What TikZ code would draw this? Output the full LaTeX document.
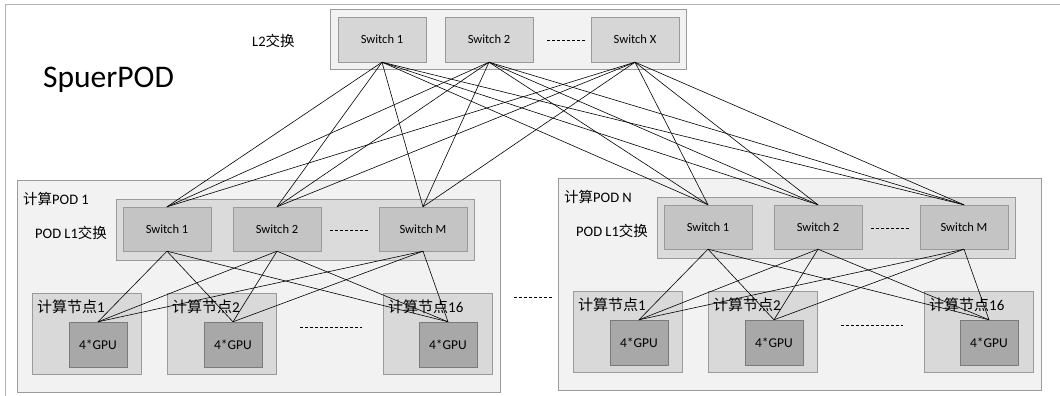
\documentclass[tikz,border=0pt]{standalone}
\usepackage{fontspec}
\setmainfont{Carlito}
\newfontfamily\cjk{Noto Sans CJK SC}
\usetikzlibrary{positioning}
\newcommand\zh[1]{{\cjk #1}}
\definecolor{edgegray}{HTML}{9A9A9A}
\tikzstyle{podbox} = [draw=edgegray, fill=black!5, minimum width=483pt, minimum height=212pt, inner sep=0pt]
\tikzstyle{l1box} = [draw=edgegray, fill=black!14, minimum width=358pt, minimum height=61pt, inner sep=0pt]
\tikzstyle{l2box} = [draw=edgegray, fill=black!5, minimum width=356pt, minimum height=60pt, inner sep=0pt]
\tikzstyle{l1sw} = [draw=edgegray, fill=black!23, minimum width=88pt, minimum height=44pt, inner sep=0pt, font=\fontsize{12.5}{14}\selectfont]
\tikzstyle{l2sw} = [draw=edgegray, fill=black!16, minimum width=88pt, minimum height=45pt, inner sep=0pt, font=\fontsize{12.5}{14}\selectfont]
\tikzstyle{nodebox} = [draw=edgegray, fill=black!15, minimum width=109pt, minimum height=81pt, inner sep=0pt]
\tikzstyle{gpu} = [draw=edgegray!80!black, fill=black!34, minimum width=58pt, minimum height=45pt, inner sep=0pt, font=\fontsize{13.5}{15}\selectfont]
\tikzstyle{lbl} = [anchor=west, inner sep=0pt, font=\fontsize{14.5}{17}\selectfont]
\tikzstyle{nlbl} = [anchor=west, inner sep=0pt, font=\fontsize{15}{18}\selectfont]
\tikzstyle{dots} = [dashed, dash pattern=on 3pt off 2pt, line width=0.6pt]
\tikzstyle{link} = [line width=0.6pt]

% one compute pod: #1 prefix, #2 #3 shift, #4 title
\newcommand\pod[4]{%
\begin{scope}[shift={(#2,#3)}]
	\node[podbox] (#1box) at (258.5,286) {};
	\node[lbl] (#1title) at (23,199) {\zh{计算}POD #4};
	\node[l1box] (#1l1) at (295,229.5) {};
	\node[lbl] (#1l1lbl) at (35,233) {POD L1\zh{交换}};
	\node[l1sw] (#1s1) at (167,229) {Switch 1};
	\node[l1sw] (#1s2) at (277,229) {Switch 2};
	\node[l1sw] (#1sm) at (423,229) {Switch M};
	\coordinate (#1d1) at (330,230);
	\coordinate (#1d2) at (368,230);
	\draw[dots] (#1d1) -- (#1d2);
	\node[nodebox] (#1n1) at (86.5,333.5) {};
	\node[nodebox] (#1n2) at (221.5,333.5) {};
	\node[nodebox] (#1n16) at (437.5,333.5) {};
	\node[nlbl] at (37,307) {\zh{计算节点}1};
	\node[nlbl] at (172,307) {\zh{计算节点}2};
	\node[nlbl] at (388,307) {\zh{计算节点}16};
	\node[gpu] (#1g1) at (98,344.5) {4*GPU};
	\node[gpu] (#1g2) at (233,344.5) {4*GPU};
	\node[gpu] (#1g16) at (448,344.5) {4*GPU};
	\coordinate (#1d3) at (300,327);
	\coordinate (#1d4) at (362,327);
	\draw[dots] (#1d3) -- (#1d4);
	\foreach \s in {s1,s2,sm}
		\foreach \g in {g1,g2,g16}
			\draw[link] (#1\s.south) -- (#1\g.north);
\end{scope}}

\begin{document}
\begin{tikzpicture}[x=1pt, y=-1pt]
	\useasboundingbox (0,0) rectangle (1060,396);
	\draw[black!30] (5,396) |- (1060,4);
	\node[anchor=west, inner sep=0pt, font=\fontsize{31.5}{36}\selectfont] (title) at (43,80) {SpuerPOD};
	\node[l2box] (l2) at (508,39) {};
	\node[lbl] (l2lbl) at (252,41) {L2\zh{交换}};
	\node[l2sw] (t1) at (382,39.5) {Switch 1};
	\node[l2sw] (t2) at (489,39.5) {Switch 2};
	\node[l2sw] (tx) at (635,39.5) {Switch X};
	\coordinate (td1) at (547,40);
	\coordinate (td2) at (585,40);
	\draw[dots] (td1) -- (td2);

	\pod{a}{0}{0}{1}
	\pod{b}{541}{-2}{N}

	\coordinate (pd1) at (514,297);
	\coordinate (pd2) at (552,297);
	\draw[dots] (pd1) -- (pd2);

	\foreach \t in {t1,t2,tx}
		\foreach \p in {a,b}
			\foreach \s in {s1,s2,sm}
				\draw[link] (\t.south) -- (\p\s.north);
\end{tikzpicture}
\end{document}
